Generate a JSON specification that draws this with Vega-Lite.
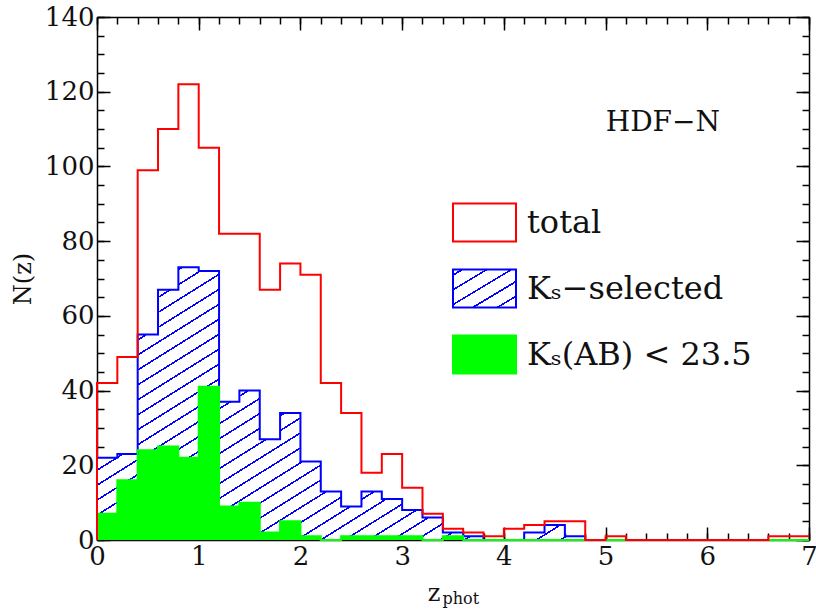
{
  "$schema": "https://vega.github.io/schema/vega-lite/v6.json",
  "width": 712,
  "height": 523,
  "autosize": {"type": "none"},
  "padding": {"left": 97, "top": 17, "right": 7, "bottom": 69},
  "background": "white",
  "title": {"text": "HDF−N", "anchor": "end", "frame": "group", "orient": "top", "offset": 0, "dx": -89, "dy": 155, "baseline": "alphabetic", "font": "DejaVu Serif", "fontSize": 28, "fontWeight": "normal", "color": "#111"},
  "config": {
    "view": {"stroke": null},
    "axis": {"domainColor": "#000", "domainWidth": 1.5, "tickColor": "#000", "tickWidth": 1.5, "labelFont": "DejaVu Serif", "labelFontSize": 26, "labelColor": "#111", "titleFont": "DejaVu Serif", "titleFontWeight": "normal", "titleFontSize": 24, "titleColor": "#111", "grid": false}
  },
  "data": {"values": [
    {"z": 0, "total": 0, "ks": 0, "ksab": 0},
    {"z": 0, "total": 42, "ks": 22, "ksab": 7},
    {"z": 0.2, "total": 49, "ks": 23, "ksab": 16},
    {"z": 0.4, "total": 99, "ks": 55, "ksab": 24},
    {"z": 0.6, "total": 110, "ks": 67, "ksab": 25},
    {"z": 0.8, "total": 122, "ks": 73, "ksab": 22},
    {"z": 1.0, "total": 105, "ks": 72, "ksab": 41},
    {"z": 1.2, "total": 82, "ks": 37, "ksab": 9},
    {"z": 1.4, "total": 82, "ks": 40, "ksab": 10},
    {"z": 1.6, "total": 67, "ks": 27, "ksab": 2},
    {"z": 1.8, "total": 74, "ks": 34, "ksab": 5},
    {"z": 2.0, "total": 71, "ks": 21, "ksab": 1},
    {"z": 2.2, "total": 42, "ks": 13, "ksab": 0},
    {"z": 2.4, "total": 34, "ks": 9, "ksab": 1},
    {"z": 2.6, "total": 18, "ks": 13, "ksab": 1},
    {"z": 2.8, "total": 23, "ks": 11, "ksab": 1},
    {"z": 3.0, "total": 14, "ks": 8, "ksab": 1},
    {"z": 3.2, "total": 7, "ks": 6, "ksab": 0},
    {"z": 3.4, "total": 3, "ks": 2, "ksab": 1},
    {"z": 3.6, "total": 2, "ks": 1, "ksab": 0},
    {"z": 3.8, "total": 1, "ks": 0, "ksab": 0},
    {"z": 4.0, "total": 3, "ks": 0, "ksab": 0},
    {"z": 4.2, "total": 4, "ks": 2, "ksab": 0},
    {"z": 4.4, "total": 5, "ks": 4, "ksab": 0},
    {"z": 4.6, "total": 5, "ks": 1, "ksab": 0},
    {"z": 4.8, "total": 0, "ks": 0, "ksab": 0},
    {"z": 5.0, "total": 1, "ks": 0, "ksab": 0},
    {"z": 5.2, "total": 0, "ks": 0, "ksab": 0},
    {"z": 5.4, "total": 0, "ks": 0, "ksab": 0},
    {"z": 5.6, "total": 0, "ks": 0, "ksab": 0},
    {"z": 5.8, "total": 0, "ks": 0, "ksab": 0},
    {"z": 6.0, "total": 0, "ks": 0, "ksab": 0},
    {"z": 6.2, "total": 0, "ks": 0, "ksab": 0},
    {"z": 6.4, "total": 0, "ks": 0, "ksab": 0},
    {"z": 6.6, "total": 1, "ks": 0, "ksab": 0},
    {"z": 6.8, "total": 1, "ks": 0, "ksab": 0},
    {"z": 7.0, "total": 1, "ks": 0, "ksab": 0}
  ]},
  "transform": [{"fold": ["total", "ks", "ksab"], "as": ["key", "n"]}],
  "resolve": {"axis": {"x": "independent", "y": "independent"}},
  "layer": [
    {
      "transform": [{"filter": "datum.key === 'ks'"}],
      "mark": {"type": "area", "interpolate": "step-after", "fill": {"gradient": "linear", "x1": 0, "y1": 0, "x2": 1.2225, "y2": 0.75, "stops": [
        {"offset": 0, "color": "#fff"},
        {"offset": 0.01, "color": "#fff"}, {"offset": 0.01, "color": "#00f"}, {"offset": 0.0125, "color": "#00f"}, {"offset": 0.0125, "color": "#fff"},
        {"offset": 0.03, "color": "#fff"}, {"offset": 0.03, "color": "#00f"}, {"offset": 0.0325, "color": "#00f"}, {"offset": 0.0325, "color": "#fff"},
        {"offset": 0.05, "color": "#fff"}, {"offset": 0.05, "color": "#00f"}, {"offset": 0.0525, "color": "#00f"}, {"offset": 0.0525, "color": "#fff"},
        {"offset": 0.07, "color": "#fff"}, {"offset": 0.07, "color": "#00f"}, {"offset": 0.0725, "color": "#00f"}, {"offset": 0.0725, "color": "#fff"},
        {"offset": 0.09, "color": "#fff"}, {"offset": 0.09, "color": "#00f"}, {"offset": 0.0925, "color": "#00f"}, {"offset": 0.0925, "color": "#fff"},
        {"offset": 0.11, "color": "#fff"}, {"offset": 0.11, "color": "#00f"}, {"offset": 0.1125, "color": "#00f"}, {"offset": 0.1125, "color": "#fff"},
        {"offset": 0.13, "color": "#fff"}, {"offset": 0.13, "color": "#00f"}, {"offset": 0.1325, "color": "#00f"}, {"offset": 0.1325, "color": "#fff"},
        {"offset": 0.15, "color": "#fff"}, {"offset": 0.15, "color": "#00f"}, {"offset": 0.1525, "color": "#00f"}, {"offset": 0.1525, "color": "#fff"},
        {"offset": 0.17, "color": "#fff"}, {"offset": 0.17, "color": "#00f"}, {"offset": 0.1725, "color": "#00f"}, {"offset": 0.1725, "color": "#fff"},
        {"offset": 0.19, "color": "#fff"}, {"offset": 0.19, "color": "#00f"}, {"offset": 0.1925, "color": "#00f"}, {"offset": 0.1925, "color": "#fff"},
        {"offset": 0.21, "color": "#fff"}, {"offset": 0.21, "color": "#00f"}, {"offset": 0.2125, "color": "#00f"}, {"offset": 0.2125, "color": "#fff"},
        {"offset": 0.23, "color": "#fff"}, {"offset": 0.23, "color": "#00f"}, {"offset": 0.2325, "color": "#00f"}, {"offset": 0.2325, "color": "#fff"},
        {"offset": 0.25, "color": "#fff"}, {"offset": 0.25, "color": "#00f"}, {"offset": 0.2525, "color": "#00f"}, {"offset": 0.2525, "color": "#fff"},
        {"offset": 0.27, "color": "#fff"}, {"offset": 0.27, "color": "#00f"}, {"offset": 0.2725, "color": "#00f"}, {"offset": 0.2725, "color": "#fff"},
        {"offset": 0.29, "color": "#fff"}, {"offset": 0.29, "color": "#00f"}, {"offset": 0.2925, "color": "#00f"}, {"offset": 0.2925, "color": "#fff"},
        {"offset": 0.31, "color": "#fff"}, {"offset": 0.31, "color": "#00f"}, {"offset": 0.3125, "color": "#00f"}, {"offset": 0.3125, "color": "#fff"},
        {"offset": 0.33, "color": "#fff"}, {"offset": 0.33, "color": "#00f"}, {"offset": 0.3325, "color": "#00f"}, {"offset": 0.3325, "color": "#fff"},
        {"offset": 0.35, "color": "#fff"}, {"offset": 0.35, "color": "#00f"}, {"offset": 0.3525, "color": "#00f"}, {"offset": 0.3525, "color": "#fff"},
        {"offset": 0.37, "color": "#fff"}, {"offset": 0.37, "color": "#00f"}, {"offset": 0.3725, "color": "#00f"}, {"offset": 0.3725, "color": "#fff"},
        {"offset": 0.39, "color": "#fff"}, {"offset": 0.39, "color": "#00f"}, {"offset": 0.3925, "color": "#00f"}, {"offset": 0.3925, "color": "#fff"},
        {"offset": 0.41, "color": "#fff"}, {"offset": 0.41, "color": "#00f"}, {"offset": 0.4125, "color": "#00f"}, {"offset": 0.4125, "color": "#fff"},
        {"offset": 0.43, "color": "#fff"}, {"offset": 0.43, "color": "#00f"}, {"offset": 0.4325, "color": "#00f"}, {"offset": 0.4325, "color": "#fff"},
        {"offset": 0.45, "color": "#fff"}, {"offset": 0.45, "color": "#00f"}, {"offset": 0.4525, "color": "#00f"}, {"offset": 0.4525, "color": "#fff"},
        {"offset": 0.47, "color": "#fff"}, {"offset": 0.47, "color": "#00f"}, {"offset": 0.4725, "color": "#00f"}, {"offset": 0.4725, "color": "#fff"},
        {"offset": 0.49, "color": "#fff"}, {"offset": 0.49, "color": "#00f"}, {"offset": 0.4925, "color": "#00f"}, {"offset": 0.4925, "color": "#fff"},
        {"offset": 0.51, "color": "#fff"}, {"offset": 0.51, "color": "#00f"}, {"offset": 0.5125, "color": "#00f"}, {"offset": 0.5125, "color": "#fff"},
        {"offset": 0.53, "color": "#fff"}, {"offset": 0.53, "color": "#00f"}, {"offset": 0.5325, "color": "#00f"}, {"offset": 0.5325, "color": "#fff"},
        {"offset": 0.55, "color": "#fff"}, {"offset": 0.55, "color": "#00f"}, {"offset": 0.5525, "color": "#00f"}, {"offset": 0.5525, "color": "#fff"},
        {"offset": 0.57, "color": "#fff"}, {"offset": 0.57, "color": "#00f"}, {"offset": 0.5725, "color": "#00f"}, {"offset": 0.5725, "color": "#fff"},
        {"offset": 0.59, "color": "#fff"}, {"offset": 0.59, "color": "#00f"}, {"offset": 0.5925, "color": "#00f"}, {"offset": 0.5925, "color": "#fff"},
        {"offset": 0.61, "color": "#fff"}, {"offset": 0.61, "color": "#00f"}, {"offset": 0.6125, "color": "#00f"}, {"offset": 0.6125, "color": "#fff"},
        {"offset": 0.63, "color": "#fff"}, {"offset": 0.63, "color": "#00f"}, {"offset": 0.6325, "color": "#00f"}, {"offset": 0.6325, "color": "#fff"},
        {"offset": 0.65, "color": "#fff"}, {"offset": 0.65, "color": "#00f"}, {"offset": 0.6525, "color": "#00f"}, {"offset": 0.6525, "color": "#fff"},
        {"offset": 0.67, "color": "#fff"}, {"offset": 0.67, "color": "#00f"}, {"offset": 0.6725, "color": "#00f"}, {"offset": 0.6725, "color": "#fff"},
        {"offset": 0.69, "color": "#fff"}, {"offset": 0.69, "color": "#00f"}, {"offset": 0.6925, "color": "#00f"}, {"offset": 0.6925, "color": "#fff"},
        {"offset": 0.71, "color": "#fff"}, {"offset": 0.71, "color": "#00f"}, {"offset": 0.7125, "color": "#00f"}, {"offset": 0.7125, "color": "#fff"},
        {"offset": 0.73, "color": "#fff"}, {"offset": 0.73, "color": "#00f"}, {"offset": 0.7325, "color": "#00f"}, {"offset": 0.7325, "color": "#fff"},
        {"offset": 0.75, "color": "#fff"}, {"offset": 0.75, "color": "#00f"}, {"offset": 0.7525, "color": "#00f"}, {"offset": 0.7525, "color": "#fff"},
        {"offset": 0.77, "color": "#fff"}, {"offset": 0.77, "color": "#00f"}, {"offset": 0.7725, "color": "#00f"}, {"offset": 0.7725, "color": "#fff"},
        {"offset": 0.79, "color": "#fff"}, {"offset": 0.79, "color": "#00f"}, {"offset": 0.7925, "color": "#00f"}, {"offset": 0.7925, "color": "#fff"},
        {"offset": 0.81, "color": "#fff"}, {"offset": 0.81, "color": "#00f"}, {"offset": 0.8125, "color": "#00f"}, {"offset": 0.8125, "color": "#fff"},
        {"offset": 0.83, "color": "#fff"}, {"offset": 0.83, "color": "#00f"}, {"offset": 0.8325, "color": "#00f"}, {"offset": 0.8325, "color": "#fff"},
        {"offset": 0.85, "color": "#fff"}, {"offset": 0.85, "color": "#00f"}, {"offset": 0.8525, "color": "#00f"}, {"offset": 0.8525, "color": "#fff"},
        {"offset": 0.87, "color": "#fff"}, {"offset": 0.87, "color": "#00f"}, {"offset": 0.8725, "color": "#00f"}, {"offset": 0.8725, "color": "#fff"},
        {"offset": 0.89, "color": "#fff"}, {"offset": 0.89, "color": "#00f"}, {"offset": 0.8925, "color": "#00f"}, {"offset": 0.8925, "color": "#fff"},
        {"offset": 0.91, "color": "#fff"}, {"offset": 0.91, "color": "#00f"}, {"offset": 0.9125, "color": "#00f"}, {"offset": 0.9125, "color": "#fff"},
        {"offset": 0.93, "color": "#fff"}, {"offset": 0.93, "color": "#00f"}, {"offset": 0.9325, "color": "#00f"}, {"offset": 0.9325, "color": "#fff"},
        {"offset": 0.95, "color": "#fff"}, {"offset": 0.95, "color": "#00f"}, {"offset": 0.9525, "color": "#00f"}, {"offset": 0.9525, "color": "#fff"},
        {"offset": 1, "color": "#fff"}
      ]}},
      "encoding": {
        "x": {"field": "z", "type": "quantitative", "scale": {"domain": [0, 7], "nice": false, "zero": false},
          "axis": {"orient": "bottom", "values": [0, 1, 2, 3, 4, 5, 6, 7], "tickSize": -13, "labelPadding": 16, "labelFlush": false, "labelOverlap": false, "title": "z", "titleX": 336.5, "titleY": 60, "titleAlign": "center", "titleBaseline": "alphabetic", "titleFontSize": 24}},
        "y": {"field": "n", "type": "quantitative", "scale": {"domain": [0, 140], "nice": false},
          "axis": {"orient": "left", "values": [0, 20, 40, 60, 80, 100, 120, 140], "tickSize": -13, "labelPadding": 16, "labelFlush": false, "labelOverlap": false, "title": "N(z)", "titleAngle": 270, "titleX": -74, "titleY": 261.5, "titleAlign": "center", "titleBaseline": "middle", "titleFontSize": 24}},
        "order": {"value": null}
      }
    },
    {
      "transform": [{"filter": "datum.key === 'ksab'"}],
      "mark": {"type": "area", "interpolate": "step-after", "fill": "#00ff00"},
      "encoding": {
        "x": {"field": "z", "type": "quantitative",
          "axis": {"orient": "bottom", "values": [0, 0.2, 0.4, 0.6, 0.8, 1, 1.2, 1.4, 1.6, 1.8, 2, 2.2, 2.4, 2.6, 2.8, 3, 3.2, 3.4, 3.6, 3.8, 4, 4.2, 4.4, 4.6, 4.8, 5, 5.2, 5.4, 5.6, 5.8, 6, 6.2, 6.4, 6.6, 6.8, 7], "tickSize": -7, "labels": false, "domain": false, "title": "phot", "titleX": 345, "titleY": 63, "titleAlign": "left", "titleBaseline": "alphabetic", "titleFontSize": 16}},
        "y": {"field": "n", "type": "quantitative",
          "axis": {"orient": "left", "values": [0, 5, 10, 15, 20, 25, 30, 35, 40, 45, 50, 55, 60, 65, 70, 75, 80, 85, 90, 95, 100, 105, 110, 115, 120, 125, 130, 135, 140], "tickSize": -7, "labels": false, "domain": false, "title": null}},
        "order": {"value": null}
      }
    },
    {
      "transform": [{"filter": "datum.key !== 'total'"}],
      "mark": {"type": "line", "interpolate": "step-after", "strokeWidth": 2},
      "encoding": {
        "x": {"field": "z", "type": "quantitative",
          "axis": {"orient": "top", "values": [0, 1, 2, 3, 4, 5, 6, 7], "tickSize": -13, "labels": false, "title": null}},
        "y": {"field": "n", "type": "quantitative",
          "axis": {"orient": "right", "values": [0, 20, 40, 60, 80, 100, 120, 140], "tickSize": -13, "labels": false, "title": null}},
        "stroke": {"field": "key", "type": "nominal", "scale": {"domain": ["total", "ks", "ksab"], "range": ["#ff0000", "#0000ff", "#00ff00"]},
          "legend": {"orient": "none", "legendX": 355, "legendY": 173, "title": null, "padding": 0, "symbolType": "M-1,-0.6H1V0.6H-1Z", "symbolSize": 3969, "symbolStrokeWidth": 2, "symbolOpacity": 1, "labelFont": "DejaVu Serif", "labelFontSize": 32, "labelColor": "#111", "labelOffset": 10, "labelLimit": 400, "rowPadding": 10,
            "labelExpr": "datum.value === 'total' ? 'total' : datum.value === 'ks' ? 'Kₛ−selected' : 'Kₛ(AB) < 23.5'",
            "encode": {"symbols": {"update": {"fill": [
              {"test": "datum.value === 'total'", "value": "#ffffff"},
              {"test": "datum.value === 'ks'", "value": {"gradient": "linear", "x1": 0, "y1": 0, "x2": 1, "y2": 1, "stops": [
                {"offset": 0, "color": "#fff"},
                {"offset": 0.06, "color": "#fff"}, {"offset": 0.06, "color": "#00f"}, {"offset": 0.085, "color": "#00f"}, {"offset": 0.085, "color": "#fff"},
                {"offset": 0.255, "color": "#fff"}, {"offset": 0.255, "color": "#00f"}, {"offset": 0.28, "color": "#00f"}, {"offset": 0.28, "color": "#fff"},
                {"offset": 0.45, "color": "#fff"}, {"offset": 0.45, "color": "#00f"}, {"offset": 0.475, "color": "#00f"}, {"offset": 0.475, "color": "#fff"},
                {"offset": 0.645, "color": "#fff"}, {"offset": 0.645, "color": "#00f"}, {"offset": 0.67, "color": "#00f"}, {"offset": 0.67, "color": "#fff"},
                {"offset": 0.84, "color": "#fff"}, {"offset": 0.84, "color": "#00f"}, {"offset": 0.865, "color": "#00f"}, {"offset": 0.865, "color": "#fff"},
                {"offset": 1, "color": "#fff"}
              ]}},
              {"value": "#00ff00"}
            ]}}}
          }},
        "order": {"value": null}
      }
    },
    {
      "transform": [{"filter": "datum.key === 'total'"}],
      "mark": {"type": "line", "interpolate": "step-after", "strokeWidth": 2},
      "encoding": {
        "x": {"field": "z", "type": "quantitative",
          "axis": {"orient": "top", "values": [0, 0.2, 0.4, 0.6, 0.8, 1, 1.2, 1.4, 1.6, 1.8, 2, 2.2, 2.4, 2.6, 2.8, 3, 3.2, 3.4, 3.6, 3.8, 4, 4.2, 4.4, 4.6, 4.8, 5, 5.2, 5.4, 5.6, 5.8, 6, 6.2, 6.4, 6.6, 6.8, 7], "tickSize": -7, "labels": false, "domain": false, "title": null}},
        "y": {"field": "n", "type": "quantitative",
          "axis": {"orient": "right", "values": [0, 5, 10, 15, 20, 25, 30, 35, 40, 45, 50, 55, 60, 65, 70, 75, 80, 85, 90, 95, 100, 105, 110, 115, 120, 125, 130, 135, 140], "tickSize": -7, "labels": false, "domain": false, "title": null}},
        "stroke": {"field": "key", "type": "nominal", "scale": {"domain": ["total", "ks", "ksab"], "range": ["#ff0000", "#0000ff", "#00ff00"]},
          "legend": {"orient": "none", "legendX": 355, "legendY": 173, "title": null, "padding": 0, "symbolType": "M-1,-0.6H1V0.6H-1Z", "symbolSize": 3969, "symbolStrokeWidth": 2, "symbolOpacity": 1, "labelFont": "DejaVu Serif", "labelFontSize": 32, "labelColor": "#111", "labelOffset": 10, "labelLimit": 400, "rowPadding": 10,
            "labelExpr": "datum.value === 'total' ? 'total' : datum.value === 'ks' ? 'Kₛ−selected' : 'Kₛ(AB) < 23.5'"}},
        "order": {"value": null}
      }
    }
  ]
}
